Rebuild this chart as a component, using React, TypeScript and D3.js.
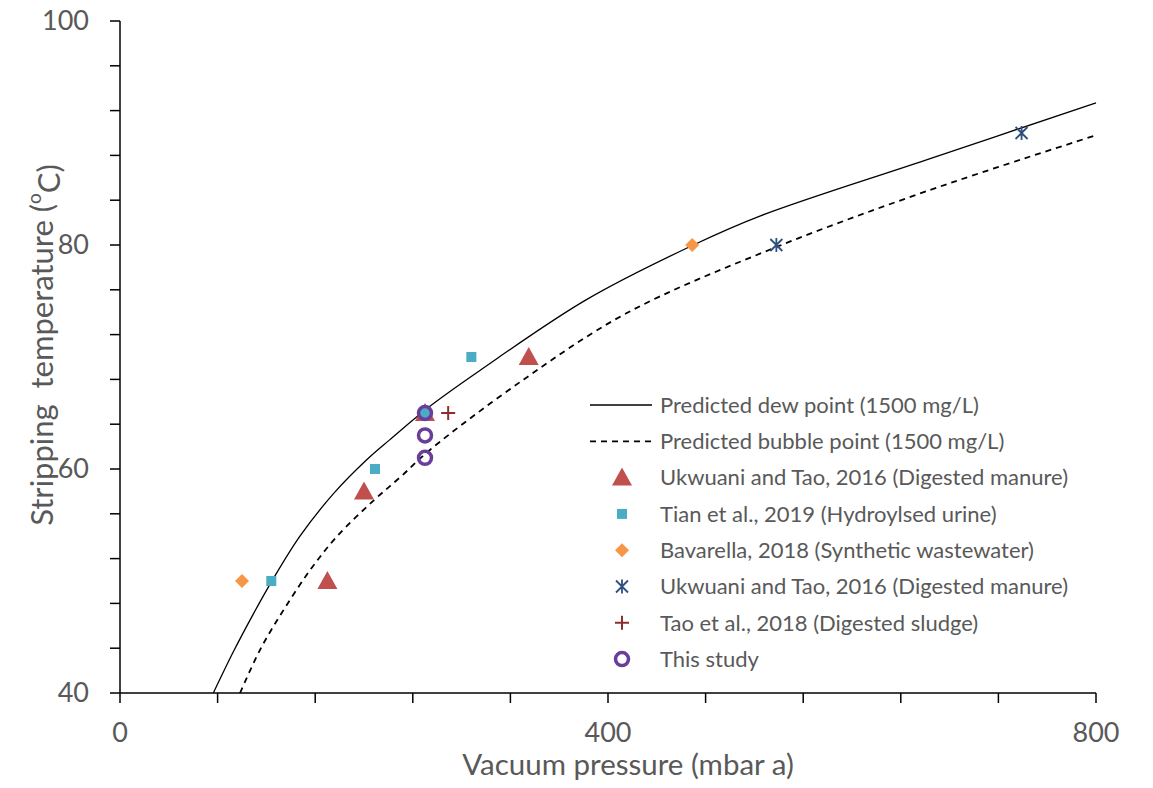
import React from 'react';
import * as d3 from 'd3';

// dew / bubble curves: [pressure mbar, temperature C]
const dewCurve: [number, number][] = [
  [76.5, 40], [93, 43.7], [109, 47.0], [124, 49.9], [147.5, 54], [175, 57.8], [202, 60.8],
  [221, 62.6], [254, 65.6], [295, 68.8], [382, 75.1], [470, 80], [525, 82.6], [661, 87.6], [800, 92.7],
];
const bubbleCurve: [number, number][] = [
  [98.4, 40], [115, 43.9], [134, 47.4], [156, 51], [178, 54], [208, 57.2], [230, 59.3], [254, 61.7],
  [331, 68], [415, 73.9], [533, 79.6], [661, 84.8], [800, 89.8],
];

const ukwuaniTri: [number, number][] = [[170, 50], [200, 58], [250, 65], [335, 70]];
const tianSq: [number, number][] = [[124, 50], [209, 60], [250, 65], [288, 70]];
const bavarella: [number, number][] = [[100, 50], [469, 80]];
const ukwuaniStar: [number, number][] = [[538, 80], [739, 90]];
const taoPlus: [number, number][] = [[269, 65]];
const thisStudy: [number, number][] = [[250, 65], [250, 63], [250, 61]];

const legendLabels = [
  'Predicted dew point (1500 mg/L)',
  'Predicted bubble point (1500 mg/L)',
  'Ukwuani and Tao, 2016 (Digested manure)',
  'Tian et al., 2019 (Hydroylsed urine)',
  'Bavarella, 2018 (Synthetic wastewater)',
  'Ukwuani and Tao, 2016 (Digested manure)',
  'Tao et al., 2018 (Digested sludge)',
  'This study',
];

const xTicks = d3.range(0, 801, 80);
const xLabels = [0, 400, 800];
const yTicks = d3.range(40, 101, 4);
const yLabels = [40, 60, 80, 100];

const W = 1153, H = 788;
const FONT = 'Lato, sans-serif';
const GREY = '#595959';
const RED = '#C0504D', CYAN = '#4BACC6', ORANGE = '#F79646', NAVY = '#2F4F7F', MAROON = '#8B3030', PURPLE = '#6A3D9A';

const Marker = ({ kind, x, y }: { kind: string; x: number; y: number }) => {
  switch (kind) {
    case 'tri':
      return <path d={`M${x},${y - 10}L${x + 10},${y + 8}L${x - 10},${y + 8}Z`} fill={RED} />;
    case 'sq':
      return <rect x={x - 5} y={y - 5} width={10} height={10} fill={CYAN} />;
    case 'dia':
      return <path d={`M${x},${y - 7}L${x + 7},${y}L${x},${y + 7}L${x - 7},${y}Z`} fill={ORANGE} />;
    case 'star':
      return (
        <path d={`M${x - 6},${y - 6}L${x + 6},${y + 6}M${x + 6},${y - 6}L${x - 6},${y + 6}M${x},${y - 7}L${x},${y + 7}`}
          stroke={NAVY} strokeWidth={1.8} fill="none" />
      );
    case 'plus':
      return <path d={`M${x - 7},${y}L${x + 7},${y}M${x},${y - 7}L${x},${y + 7}`} stroke={MAROON} strokeWidth={2} fill="none" />;
    default:
      return <circle cx={x} cy={y} r={6.5} stroke={PURPLE} strokeWidth={3.5} fill="none" />;
  }
};

export default function App() {
  const x = d3.scaleLinear().domain([0, 800]).range([120, 1096]);
  const y = d3.scaleLinear().domain([40, 100]).range([693, 21]);
  const line = d3.line<[number, number]>().x(d => x(d[0])).y(d => y(d[1])).curve(d3.curveCatmullRom.alpha(0.5));

  const series: [string, [number, number][]][] = [
    ['tri', ukwuaniTri], ['sq', tianSq], ['dia', bavarella],
    ['star', ukwuaniStar], ['plus', taoPlus], ['circ', thisStudy],
  ];
  const legendKinds = ['tri', 'sq', 'dia', 'star', 'plus', 'circ'];

  return (
    <svg width={W} height={H} style={{ display: 'block', position: 'absolute', left: 0, top: 0 }}>
      <rect width={W} height={H} fill="#fff" />
      {/* axes */}
      <line x1={120} x2={120} y1={y(100)} y2={y(40)} stroke="#000" strokeWidth={1.5} />
      <line x1={120} x2={x(800)} y1={y(40)} y2={y(40)} stroke="#000" strokeWidth={1.5} />
      {yTicks.map(t => (
        <line key={'yt' + t} x1={110} x2={120} y1={y(t)} y2={y(t)} stroke="#000" strokeWidth={1.5} />
      ))}
      {xTicks.map(t => (
        <line key={'xt' + t} x1={x(t)} x2={x(t)} y1={693} y2={703} stroke="#000" strokeWidth={1.5} />
      ))}
      {yLabels.map(t => (
        <text key={'yl' + t} x={89} y={y(t)} dy="0.35em" textAnchor="end" fontFamily={FONT} fontSize={27} fill={GREY}>{t}</text>
      ))}
      {xLabels.map(t => (
        <text key={'xl' + t} x={x(t)} y={733} dy="0.35em" textAnchor="middle" fontFamily={FONT} fontSize={27} fill={GREY}>{t}</text>
      ))}
      <text x={(459 + 797) / 2} y={765} dy="0.35em" textAnchor="middle" fontFamily={FONT} fontSize={29.5} fill={GREY}>Vacuum pressure (mbar a)</text>
      <text transform="translate(42,345) rotate(-90)" dy="0.35em" textAnchor="middle" fontFamily={FONT} fontSize={31} fill={GREY} xmlSpace="preserve">
        Stripping  temperature (<tspan fontSize={19} dy="-0.6em">o</tspan><tspan dy="0.6em">C)</tspan>
      </text>

      {/* curves */}
      <path d={line(dewCurve) || ''} fill="none" stroke="#000" strokeWidth={1.3} />
      <path d={line(bubbleCurve) || ''} fill="none" stroke="#000" strokeWidth={1.8} strokeDasharray="6,5" />

      {/* markers */}
      {series.map(([kind, pts]) => pts.map((p, i) => <Marker key={kind + i} kind={kind} x={x(p[0])} y={y(p[1])} />))}

      {/* legend */}
      {legendLabels.map((l, i) => {
        const ly = 405 + i * 36.3;
        return (
          <g key={'lg' + i}>
            {i === 0 && <line x1={590} x2={652} y1={ly} y2={ly} stroke="#000" strokeWidth={1.3} />}
            {i === 1 && <line x1={590} x2={652} y1={ly} y2={ly} stroke="#000" strokeWidth={1.8} strokeDasharray="6,5" />}
            {i > 1 && <Marker kind={legendKinds[i - 2]} x={622} y={ly} />}
            <text x={660} y={ly} dy="0.35em" fontFamily={FONT} fontSize={22} fill={GREY}>{l}</text>
          </g>
        );
      })}
    </svg>
  );
}
